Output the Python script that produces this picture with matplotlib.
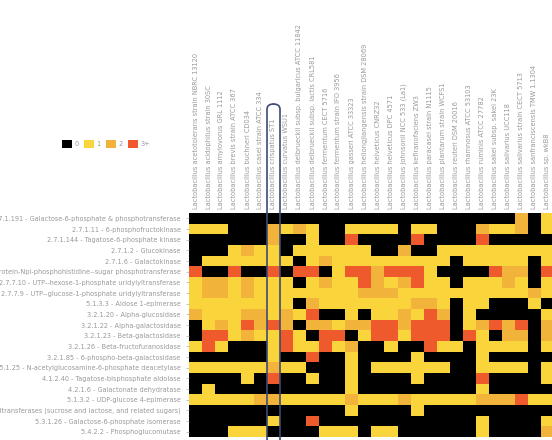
import numpy as np
import matplotlib
matplotlib.use("Agg")
import matplotlib.pyplot as plt
from matplotlib.colors import ListedColormap, BoundaryNorm
from matplotlib.patches import Patch, FancyBboxPatch

strains = [
    "Lactobacillus acetotolerans strain NBRC 13120",
    "Lactobacillus acidophilus strain 30SC",
    "Lactobacillus amylovorus GRL 1112",
    "Lactobacillus brevis strain ATCC 367",
    "Lactobacillus buchneri CD034",
    "Lactobacillus casei strain ATCC 334",
    "Lactobacillus crispatus ST1",
    "Lactobacillus curvatus WSU1",
    "Lactobacillus delbrueckii subsp. bulgaricus ATCC 11842",
    "Lactobacillus delbrueckii subsp. lactis CRL581",
    "Lactobacillus fermentum CECT 5716",
    "Lactobacillus fermentum strain IFO 3956",
    "Lactobacillus gasseri ATCC 33323",
    "Lactobacillus heilongjiangensis strain DSM 28069",
    "Lactobacillus helveticus CNRZ32",
    "Lactobacillus helveticus DPC 4571",
    "Lactobacillus johnsonii NCC 533 (La1)",
    "Lactobacillus kefiranofaciens ZW3",
    "Lactobacillus paracasei strain N1115",
    "Lactobacillus plantarum strain WCFS1",
    "Lactobacillus reuteri DSM 20016",
    "Lactobacillus rhamnosus ATCC 53103",
    "Lactobacillus ruminis ATCC 27782",
    "Lactobacillus sakei subsp. sakei 23K",
    "Lactobacillus salivarius UCC118",
    "Lactobacillus salivarius strain CECT 5713",
    "Lactobacillus sanfranciscensis TMW 1.1304",
    "Lactobacillus sp. wkB8",
]

enzymes = [
    "2.7.1.191 - Galactose-6-phosphate & phosphotransferase",
    "2.7.1.11 - 6-phosphofructokinase",
    "2.7.1.144 - Tagatose-6-phosphate kinase",
    "2.7.1.2 - Glucokinase",
    "2.7.1.6 - Galactokinase",
    "Protein-Npi-phosphohistidine--sugar phosphotransferase",
    "2.7.7.10 - UTP--hexose-1-phosphate uridylyltransferase",
    "2.7.7.9 - UTP--glucose-1-phosphate uridylyltransferase",
    "5.1.3.3 - Aldose 1-epimerase",
    "3.2.1.20 - Alpha-glucosidase",
    "3.2.1.22 - Alpha-galactosidase",
    "3.2.1.23 - Beta-galactosidase",
    "3.2.1.26 - Beta-fructofuranosidase",
    "3.2.1.85 - 6-phospho-beta-galactosidase",
    "3.5.1.25 - N-acetylglucosamine-6-phosphate deacetylase",
    "4.1.2.40 - Tagatose-bisphosphate aldolase",
    "4.2.1.6 - Galactonate dehydratase",
    "5.1.3.2 - UDP-glucose 4-epimerase",
    "Hexosyltransferases (sucrose and lactose, and related sugars)",
    "5.3.1.26 - Galactose-6-phosphate isomerase",
    "5.4.2.2 - Phosphoglucomutase",
]

# gene copies per enzyme (rows) and strain (columns), 3 means 3 or more
counts = [
    [0,0,0,0,0,0,0,0,0,0,0,0,0,0,0,0,0,0,0,0,0,0,0,0,0,2,0,1],
    [1,1,1,0,0,0,2,1,2,1,0,0,1,1,1,1,0,1,1,0,0,0,2,1,1,2,0,1],
    [0,0,0,0,0,0,2,0,0,1,0,0,3,0,0,0,0,3,0,0,0,0,3,0,0,0,0,0],
    [0,0,0,1,2,1,1,0,1,1,1,1,1,1,0,0,2,0,0,1,1,1,1,1,1,1,1,1],
    [0,1,1,1,1,1,1,1,0,1,2,1,1,1,1,1,1,1,1,1,0,1,1,1,1,1,0,1],
    [3,0,0,3,0,0,3,0,3,3,0,1,3,3,2,3,3,3,1,0,0,0,0,3,2,2,0,3],
    [1,2,2,1,2,1,1,1,0,1,2,1,1,3,2,1,2,3,1,1,0,1,1,1,2,1,0,1],
    [1,2,2,1,2,1,1,1,1,1,1,1,1,2,2,2,1,1,1,1,1,1,1,1,1,1,2,1],
    [1,1,1,1,1,1,1,1,0,2,1,1,1,1,1,1,1,2,2,1,0,1,1,0,0,0,1,0],
    [2,1,1,1,2,2,1,2,1,3,0,0,1,0,1,1,2,1,3,2,0,1,0,0,0,0,0,1],
    [0,1,2,1,3,2,3,2,0,2,2,1,2,2,3,3,2,3,3,3,0,1,2,3,2,3,0,2],
    [0,3,3,1,2,1,1,3,1,0,3,3,0,1,3,3,1,3,3,3,0,3,1,0,2,2,0,2],
    [1,3,1,0,0,0,1,3,1,1,3,1,2,0,0,1,0,0,3,1,1,0,1,1,1,1,0,1],
    [0,0,0,0,0,0,1,0,0,3,0,0,1,0,0,0,0,1,0,0,0,0,1,0,0,0,0,0],
    [1,1,1,1,1,1,2,1,1,0,0,0,1,0,1,1,1,1,1,1,0,0,1,1,1,1,0,1],
    [0,0,0,0,1,0,3,0,0,1,0,0,1,0,0,0,0,1,0,0,0,0,3,0,0,0,0,1],
    [0,1,0,0,0,0,0,0,0,0,0,0,1,0,0,0,0,0,0,0,0,0,1,0,0,0,0,0],
    [1,1,1,1,1,2,2,1,1,1,1,1,2,1,1,1,2,1,1,1,1,1,2,2,2,3,1,1],
    [0,0,0,0,0,0,0,0,0,0,0,0,1,0,0,0,0,1,0,0,0,0,0,0,0,0,0,0],
    [0,0,0,0,0,0,1,0,0,3,0,0,0,0,0,0,0,0,0,0,0,0,1,0,0,0,0,1],
    [0,0,0,1,1,1,0,0,0,0,1,1,1,0,1,1,0,0,0,0,0,0,1,0,0,0,0,2],
]

levels = ["0", "1", "2", "3+"]
colors = ["#000000", "#F9D43A", "#F2B33B", "#EE5A2C"]
highlight = "Lactobacillus crispatus ST1"
text_color = "#999999"

fig = plt.figure(figsize=(5.52, 4.4), dpi=100)
ax = fig.add_axes([189 / 552, 3 / 440, 364 / 552, 224 / 440])

cmap = ListedColormap(colors)
norm = BoundaryNorm([-0.5, 0.5, 1.5, 2.5, 3.5], cmap.N)
ax.imshow(np.array(counts), cmap=cmap, norm=norm, aspect="auto", interpolation="nearest")

ax.set_xticks(range(len(strains)))
ax.set_xticklabels(strains, rotation=90, fontsize=4.8, color=text_color)
ax.xaxis.tick_top()
ax.set_yticks(range(len(enzymes)))
ax.set_yticklabels(enzymes, fontsize=4.7, color=text_color)
ax.tick_params(axis="x", length=0, pad=3)
ax.tick_params(axis="y", length=2, width=0.5, color="#b0b0b0", pad=4)
for s in ax.spines.values():
    s.set_visible(False)

# legend with the count classes
handles = [Patch(facecolor=c, edgecolor="none") for c in colors]
fig.legend(handles, levels, loc="center", bbox_to_anchor=(106 / 552, 1 - 144 / 440),
           ncol=4, frameon=False, fontsize=4.8, labelcolor=text_color,
           handlelength=1.5, handleheight=1.5, handletextpad=0.4, columnspacing=0.8)

# rounded frame around the highlighted strain column
col = strains.index(highlight)
inv = fig.transFigure.inverted()
x0 = inv.transform(ax.transData.transform((col - 0.5, 0)))[0]
x1 = inv.transform(ax.transData.transform((col + 0.5, 0)))[0]
top = 1 - 104 / 440
frame = FancyBboxPatch((x0, -0.05), x1 - x0, top + 0.05,
                       boxstyle="round,pad=0,rounding_size=0.012",
                       transform=fig.transFigure, fill=False,
                       edgecolor="#3c4a78", linewidth=1.2, clip_on=False)
fig.patches.append(frame)

fig.savefig("out.png", dpi=100)
